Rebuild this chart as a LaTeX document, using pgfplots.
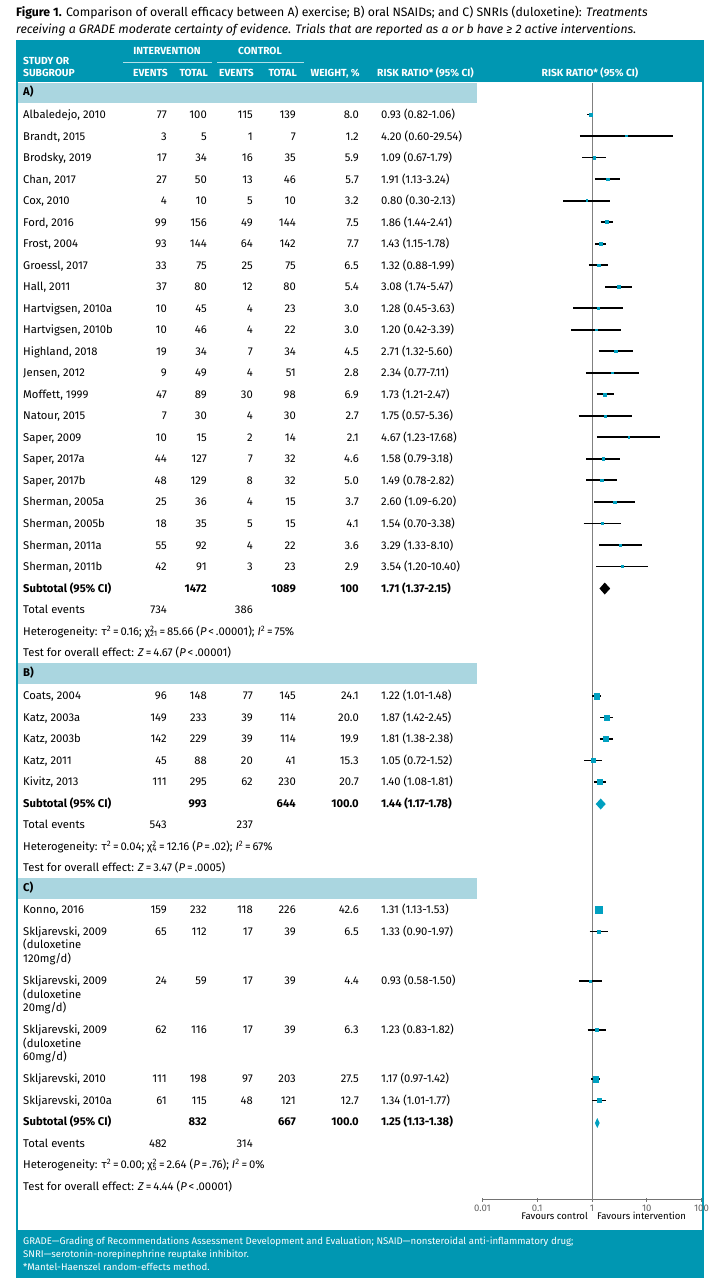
\documentclass[border=0pt]{standalone}
\usepackage{pgfplots}
\pgfplotsset{compat=1.18}
\usepackage{fontspec}
\setmainfont{Fira Sans}
\definecolor{hdr}{RGB}{0,151,178}
\definecolor{band}{RGB}{170,214,224}
\definecolor{mk}{RGB}{0,160,192}
\newcommand{\ci}[5]{%
  \addplot[black, line width=1.8bp, forget plot] coordinates {(#2,-#1) (#4,-#1)};
  \addplot[mk, only marks, mark=square*, mark size=#5bp, forget plot] coordinates {(#3,-#1)};
}
\begin{document}
\begin{tikzpicture}
\begin{scope}[x=1bp,y=1bp,
  t/.style={inner sep=0pt, text height=0.72em, text depth=0.2em, font=\fontsize{11.3}{13}\selectfont},
  L/.style={t, anchor=west},
  N/.style={t, anchor=east},
  H/.style={inner sep=0pt, text height=0.72em, text depth=0.2em, font=\fontsize{10.3}{12}\selectfont\bfseries, text=white}]
\fill[white] (0,0) rectangle (712,-1287);
% title
\node[anchor=west, inner sep=0pt, font=\fontsize{12.3}{14}\selectfont] at (16,-13) {\textbf{Figure 1.} Comparison of overall efficacy between A) exercise; B) oral NSAIDs; and C) SNRIs (duloxetine): \textit{Treatments}};
\node[anchor=west, inner sep=0pt, font=\fontsize{12.3}{14}\selectfont] at (16,-30) {\textit{receiving a GRADE moderate certainty of evidence. Trials that are reported as a or b have ≥ 2 active interventions.}};
% frame
\fill[hdr] (16,-40) rectangle (704,-82);
\fill[hdr] (16,-1230) rectangle (704,-1278);
\fill[hdr] (16,-40) rectangle (18,-1278);
\fill[hdr] (702,-40) rectangle (704,-1278);
% bands
\fill[band] (18,-83) rectangle (477,-103);
\fill[band] (18,-663) rectangle (477,-684);
\fill[band] (18,-878) rectangle (477,-899);
% header
\node[H, anchor=west] at (23,-62) {STUDY OR};
\node[H, anchor=west] at (23,-74) {SUBGROUP};
\node[H] at (167,-52) {INTERVENTION};
\node[H] at (260,-52) {CONTROL};
\draw[white!70!hdr, line width=0.8bp] (123,-62) -- (212,-62);
\draw[white!70!hdr, line width=0.8bp] (217,-62) -- (304,-62);
\node[H, anchor=east] at (168,-74) {EVENTS};
\node[H, anchor=east] at (208,-74) {TOTAL};
\node[H, anchor=east] at (254,-74) {EVENTS};
\node[H, anchor=east] at (297,-74) {TOTAL};
\node[H, anchor=east] at (360,-74) {WEIGHT, \%};
\node[H, anchor=west] at (377,-74) {RISK RATIO* (95\% CI)};
\node[H] at (590,-74) {RISK RATIO* (95\% CI)};
% section labels
\node[L] at (23,-93) {\bfseries A)};
\node[L] at (23,-674) {\bfseries B)};
\node[L] at (23,-889) {\bfseries C)};
% row macro
\def\row#1#2#3#4#5#6#7#8{%
  \node[L] at (23,-#1) {#2};
  \node[N] at (167,-#1) {#3};
  \node[N] at (207,-#1) {#4};
  \node[N] at (253,-#1) {#5};
  \node[N] at (296,-#1) {#6};
  \node[N] at (359,-#1) {#7};
  \node[L] at (381,-#1) {#8};}
% A
\row{116.0}{Albaledejo, 2010}{77}{100}{115}{139}{8.0}{0.93 (0.82-1.06)}
\row{137.5}{Brandt, 2015}{3}{5}{1}{7}{1.2}{4.20 (0.60-29.54)}
\row{159.0}{Brodsky, 2019}{17}{34}{16}{35}{5.9}{1.09 (0.67-1.79)}
\row{180.6}{Chan, 2017}{27}{50}{13}{46}{5.7}{1.91 (1.13-3.24)}
\row{202.1}{Cox, 2010}{4}{10}{5}{10}{3.2}{0.80 (0.30-2.13)}
\row{223.6}{Ford, 2016}{99}{156}{49}{144}{7.5}{1.86 (1.44-2.41)}
\row{245.1}{Frost, 2004}{93}{144}{64}{142}{7.7}{1.43 (1.15-1.78)}
\row{266.6}{Groessl, 2017}{33}{75}{25}{75}{6.5}{1.32 (0.88-1.99)}
\row{288.2}{Hall, 2011}{37}{80}{12}{80}{5.4}{3.08 (1.74-5.47)}
\row{309.7}{Hartvigsen, 2010a}{10}{45}{4}{23}{3.0}{1.28 (0.45-3.63)}
\row{331.2}{Hartvigsen, 2010b}{10}{46}{4}{22}{3.0}{1.20 (0.42-3.39)}
\row{352.7}{Highland, 2018}{19}{34}{7}{34}{4.5}{2.71 (1.32-5.60)}
\row{374.2}{Jensen, 2012}{9}{49}{4}{51}{2.8}{2.34 (0.77-7.11)}
\row{395.8}{Moffett, 1999}{47}{89}{30}{98}{6.9}{1.73 (1.21-2.47)}
\row{417.3}{Natour, 2015}{7}{30}{4}{30}{2.7}{1.75 (0.57-5.36)}
\row{438.8}{Saper, 2009}{10}{15}{2}{14}{2.1}{4.67 (1.23-17.68)}
\row{460.3}{Saper, 2017a}{44}{127}{7}{32}{4.6}{1.58 (0.79-3.18)}
\row{481.8}{Saper, 2017b}{48}{129}{8}{32}{5.0}{1.49 (0.78-2.82)}
\row{503.4}{Sherman, 2005a}{25}{36}{4}{15}{3.7}{2.60 (1.09-6.20)}
\row{524.9}{Sherman, 2005b}{18}{35}{5}{15}{4.1}{1.54 (0.70-3.38)}
\row{546.4}{Sherman, 2011a}{55}{92}{4}{22}{3.6}{3.29 (1.33-8.10)}
\row{567.9}{Sherman, 2011b}{42}{91}{3}{23}{2.9}{3.54 (1.20-10.40)}
\row{589.4}{\bfseries Subtotal (95\% CI)}{}{\bfseries 1472}{}{\bfseries 1089}{\bfseries 100}{\bfseries 1.71 (1.37-2.15)}
\row{611.0}{Total events}{734}{}{386}{}{}{}
\node[L] at (23,-632.5) {Heterogeneity: τ\textsuperscript{2}\,=\,0.16; χ\rlap{\textsuperscript{2}}\textsubscript{21}\,=\,85.66 (\textit{P}\,<\,.00001); \textit{I}\textsuperscript{2}\,=\,75\%};
\node[L] at (23,-654) {Test for overall effect: \textit{Z}\,=\,4.67 (\textit{P}\,<\,.00001)};
% B
\row{697.0}{Coats, 2004}{96}{148}{77}{145}{24.1}{1.22 (1.01-1.48)}
\row{718.5}{Katz, 2003a}{149}{233}{39}{114}{20.0}{1.87 (1.42-2.45)}
\row{740.0}{Katz, 2003b}{142}{229}{39}{114}{19.9}{1.81 (1.38-2.38)}
\row{761.5}{Katz, 2011}{45}{88}{20}{41}{15.3}{1.05 (0.72-1.52)}
\row{783.0}{Kivitz, 2013}{111}{295}{62}{230}{20.7}{1.40 (1.08-1.81)}
\row{804.5}{\bfseries Subtotal (95\% CI)}{}{\bfseries 993}{}{\bfseries 644}{\bfseries 100.0}{\bfseries 1.44 (1.17-1.78)}
\row{826.0}{Total events}{543}{}{237}{}{}{}
\node[L] at (23,-847.5) {Heterogeneity: τ\textsuperscript{2}\,=\,0.04; χ\rlap{\textsuperscript{2}}\textsubscript{4}\,=\,12.16 (\textit{P}\,=\,.02); \textit{I}\textsuperscript{2}\,=\,67\%};
\node[L] at (23,-869) {Test for overall effect: \textit{Z}\,=\,3.47 (\textit{P}\,=\,.0005)};
% C
\row{911.0}{Konno, 2016}{159}{232}{118}{226}{42.6}{1.31 (1.13-1.53)}
\row{932.5}{Skljarevski, 2009}{65}{112}{17}{39}{6.5}{1.33 (0.90-1.97)}
\node[L] at (23,-946) {(duloxetine};
\node[L] at (23,-960) {120mg/d)};
\row{982.0}{Skljarevski, 2009}{24}{59}{17}{39}{4.4}{0.93 (0.58-1.50)}
\node[L] at (23,-995.5) {(duloxetine};
\node[L] at (23,-1009) {20mg/d)};
\row{1031.0}{Skljarevski, 2009}{62}{116}{17}{39}{6.3}{1.23 (0.83-1.82)}
\node[L] at (23,-1044.5) {(duloxetine};
\node[L] at (23,-1058) {60mg/d)};
\row{1080.0}{Skljarevski, 2010}{111}{198}{97}{203}{27.5}{1.17 (0.97-1.42)}
\row{1101.5}{Skljarevski, 2010a}{61}{115}{48}{121}{12.7}{1.34 (1.01-1.77)}
\row{1123.0}{\bfseries Subtotal (95\% CI)}{}{\bfseries 832}{}{\bfseries 667}{\bfseries 100.0}{\bfseries 1.25 (1.13-1.38)}
\row{1144.5}{Total events}{482}{}{314}{}{}{}
\node[L] at (23,-1166) {Heterogeneity: τ\textsuperscript{2}\,=\,0.00; χ\rlap{\textsuperscript{2}}\textsubscript{5}\,=\,2.64 (\textit{P}\,=\,.76); \textit{I}\textsuperscript{2}\,=\,0\%};
\node[L] at (23,-1187.5) {Test for overall effect: \textit{Z}\,=\,4.44 (\textit{P}\,<\,.00001)};
% favours
\node[anchor=east, inner sep=0pt, font=\fontsize{9.6}{11}\selectfont, text height=0.72em, text depth=0.2em] at (588,-1217) {Favours control};
\node[anchor=west, inner sep=0pt, font=\fontsize{9.6}{11}\selectfont, text height=0.72em, text depth=0.2em] at (597,-1217) {Favours intervention};
% footer
\node[anchor=west, inner sep=0pt, text=white, font=\fontsize{9.7}{11}\selectfont] at (23,-1242) {GRADE—Grading of Recommendations Assessment Development and Evaluation; NSAID—nonsteroidal anti-inflammatory drug;};
\node[anchor=west, inner sep=0pt, text=white, font=\fontsize{9.7}{11}\selectfont] at (23,-1255) {SNRI—serotonin-norepinephrine reuptake inhibitor.};
\node[anchor=west, inner sep=0pt, text=white, font=\fontsize{9.7}{11}\selectfont] at (23,-1267) {*Mantel-Haenszel random-effects method.};
\end{scope}
\begin{axis}[
  at={(482.5bp,-1199.5bp)}, anchor=south west,
  scale only axis, width=219bp, height=1116.5bp,
  xmode=log, xmin=0.01, xmax=100, ymin=-1199.5, ymax=-83,
  axis x line=bottom, axis y line=none,
  axis line style={-, draw=black!55, line width=0.8bp},
  xtick={0.01,0.1,1,10,100},
  xticklabels={0.01,0.1,1,10,100},
  xminorticks=false,
  xtick align=center, major tick length=4bp,
  tick style={black!55, line width=0.6bp},
  xticklabel style={font=\fontsize{9.6}{11}\selectfont, text=black!60},
  clip=false,
]
\addplot[black!50, line width=0.8bp, forget plot] coordinates {(1,-83) (1,-1199.5)};
% A
\ci{114.5}{0.82}{0.93}{1.06}{1.56}
\ci{136.0}{0.60}{4.20}{29.54}{0.60}
\ci{157.5}{0.67}{1.09}{1.79}{1.34}
\ci{179.1}{1.13}{1.91}{3.24}{1.31}
\ci{200.6}{0.30}{0.80}{2.13}{0.98}
\ci{222.1}{1.44}{1.86}{2.41}{1.51}
\ci{243.6}{1.15}{1.43}{1.78}{1.53}
\ci{265.1}{0.88}{1.32}{1.99}{1.40}
\ci{286.7}{1.74}{3.08}{5.47}{1.28}
\ci{308.2}{0.45}{1.28}{3.63}{0.95}
\ci{329.7}{0.42}{1.20}{3.39}{0.95}
\ci{351.2}{1.32}{2.71}{5.60}{1.17}
\ci{372.7}{0.77}{2.34}{7.11}{0.92}
\ci{394.3}{1.21}{1.73}{2.47}{1.44}
\ci{415.8}{0.57}{1.75}{5.36}{0.90}
\ci{437.3}{1.23}{4.67}{17.68}{0.80}
\ci{458.8}{0.79}{1.58}{3.18}{1.18}
\ci{480.3}{0.78}{1.49}{2.82}{1.23}
\ci{501.9}{1.09}{2.60}{6.20}{1.06}
\ci{523.4}{0.70}{1.54}{3.38}{1.11}
\ci{544.9}{1.33}{3.29}{8.10}{1.04}
\ci{566.4}{1.20}{3.54}{10.40}{0.94}
\addplot[fill=black, draw=none, forget plot] coordinates {(1.37,-588.5) (1.71,-582.5) (2.15,-588.5) (1.71,-594.5)} -- cycle;
% B
\ci{696.0}{1.01}{1.22}{1.48}{2.70}
\ci{717.5}{1.42}{1.87}{2.45}{2.46}
\ci{739.0}{1.38}{1.81}{2.38}{2.45}
\ci{760.5}{0.72}{1.05}{1.52}{2.15}
\ci{782.0}{1.08}{1.40}{1.81}{2.50}
\addplot[fill=mk, draw=none, forget plot] coordinates {(1.17,-804) (1.44,-798.5) (1.78,-804) (1.44,-809.5)} -- cycle;
% C
\ci{910.0}{1.13}{1.31}{1.53}{3.59}
\ci{931.5}{0.90}{1.33}{1.97}{1.40}
\ci{981.0}{0.58}{0.93}{1.50}{1.15}
\ci{1030.0}{0.83}{1.23}{1.82}{1.38}
\ci{1079.0}{0.97}{1.17}{1.42}{2.88}
\ci{1100.5}{1.01}{1.34}{1.77}{1.96}
\addplot[fill=mk, draw=none, forget plot] coordinates {(1.13,-1123) (1.25,-1118) (1.38,-1123) (1.25,-1128)} -- cycle;
\end{axis}
\end{tikzpicture}
\end{document}
